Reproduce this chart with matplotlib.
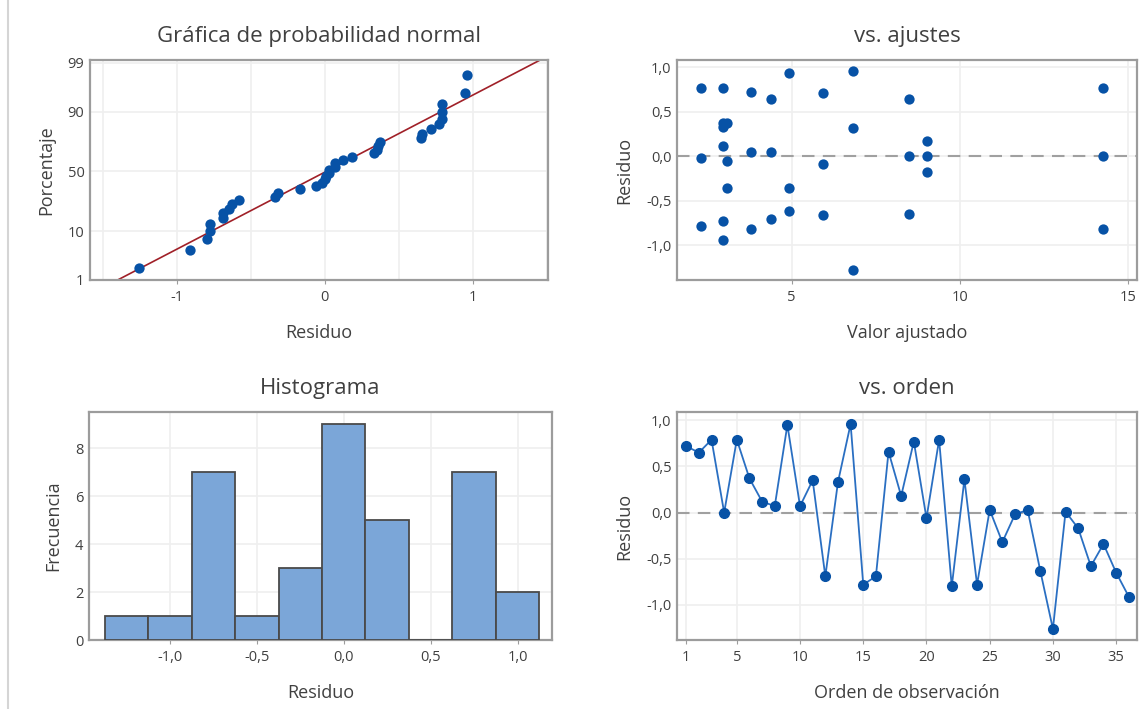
from statistics import NormalDist

import matplotlib
matplotlib.use('Agg')
import matplotlib.pyplot as plt
import numpy as np
from matplotlib.ticker import FuncFormatter

# residuals in observation order (1..36)
residuo = [0.72, 0.65, 0.79, 0.00, 0.79, 0.37, 0.12, 0.07, 0.95, 0.07,
           0.35, -0.69, 0.33, 0.96, -0.78, -0.69, 0.66, 0.18, 0.77, -0.06,
           0.79, -0.80, 0.36, -0.78, 0.03, -0.32, -0.02, 0.03, -0.63, -1.26,
           0.01, -0.17, -0.58, -0.34, -0.65, -0.91]

# fitted values vs residuals panel
ajustado = [2.30, 2.30, 2.30,
            2.95, 2.95, 2.95, 2.95, 2.95, 2.95,
            3.07, 3.07, 3.07,
            3.78, 3.78, 3.78,
            4.38, 4.38, 4.38,
            4.91, 4.91, 4.91,
            5.94, 5.94, 5.94,
            6.83, 6.83, 6.83,
            8.47, 8.47, 8.47,
            9.01, 9.01, 9.01,
            14.24, 14.24, 14.24]
residuo_ajuste = [0.77, -0.02, -0.78,
                  0.77, 0.37, 0.33, 0.11, -0.73, -0.94,
                  0.37, -0.05, -0.36,
                  0.72, 0.05, -0.82,
                  0.64, 0.05, -0.70,
                  0.93, -0.36, -0.62,
                  0.71, -0.09, -0.66,
                  0.96, 0.32, -1.28,
                  0.64, 0.00, -0.65,
                  0.17, 0.00, -0.18,
                  0.77, 0.00, -0.82]

# histogram bin edges
bordes = [-1.375, -1.125, -0.875, -0.625, -0.375, -0.125, 0.125, 0.375, 0.625, 0.875, 1.125]
pct_ticks = [1, 10, 50, 90, 99]

W, H = 1146, 709
AZUL = '#0752A6'
AZUL_LINEA = '#2A6FC2'
GRID = '#EFEFEF'
SPINE = '#9C9C9C'
TXT = '#404040'

plt.rcParams['font.family'] = ['Open Sans', 'DejaVu Sans']
plt.rcParams['axes.unicode_minus'] = False


def rect(x0, y0, x1, y1):
    return [x0 / W, 1 - y1 / H, (x1 - x0) / W, (y1 - y0) / H]


def coma(v, pos):
    return f'{v:.1f}'.replace('.', ',')


def estilo(ax, title, xlabel, ylabel):
    for s in ax.spines.values():
        s.set_color(SPINE)
        s.set_linewidth(1.6)
    ax.grid(True, color=GRID, linewidth=1.2)
    ax.set_axisbelow(True)
    ax.tick_params(axis='x', length=3, color=SPINE, labelsize=10.5, labelcolor=TXT, pad=4)
    ax.tick_params(axis='y', length=0, labelsize=10.5, labelcolor=TXT, pad=4)
    ax.set_title(title, fontsize=16, color=TXT, pad=13)
    ax.set_xlabel(xlabel, fontsize=13, color=TXT, labelpad=14)
    ax.set_ylabel(ylabel, fontsize=13, color=TXT, labelpad=9)


fig = plt.figure(figsize=(W / 100, H / 100), dpi=100)
fig.add_artist(plt.Line2D([8 / W, 8 / W], [0, 1], color='#D5D5D5', linewidth=1.5))

# normal probability plot
ax1 = fig.add_axes(rect(90, 60, 548, 280))
nd = NormalDist()
r = np.sort(residuo)
n = len(r)
z = np.array([nd.inv_cdf((i + 1 - 0.3) / (n + 0.4)) for i in range(n)])
mu, sd = np.mean(r), np.std(r, ddof=1)
zl = np.array([-2.4, 2.45])
ax1.plot(mu + sd * zl, zl, color='#A02028', linewidth=1.2, zorder=2)
ax1.scatter(r, z, s=55, color=AZUL, zorder=3, linewidths=0)
ax1.set_xlim(-1.59, 1.51)
ax1.set_ylim(-2.33, 2.39)
ax1.set_yticks([nd.inv_cdf(p / 100) for p in pct_ticks])
ax1.set_yticklabels([str(p) for p in pct_ticks])
ax1.set_xticks([-1, 0, 1])
ax1.set_xticks([-1.5, -0.5, 0.5, 1.5], minor=True)
ax1.tick_params(which='minor', length=0)
ax1.grid(True, which='minor', axis='x', color=GRID, linewidth=1.2)
estilo(ax1, 'Gráfica de probabilidad normal', 'Residuo', 'Porcentaje')

# residuals vs fitted
ax2 = fig.add_axes(rect(677, 60, 1137, 280))
ax2.axhline(0, color='#A0A0A0', linewidth=1.5, linestyle=(0, (6, 4)), zorder=2)
ax2.scatter(ajustado, residuo_ajuste, s=55, color=AZUL, zorder=3, linewidths=0)
ax2.set_xlim(1.59, 15.26)
ax2.set_ylim(-1.39, 1.08)
ax2.set_xticks([5, 10, 15])
ax2.set_yticks([-1.0, -0.5, 0.0, 0.5, 1.0])
ax2.yaxis.set_major_formatter(FuncFormatter(coma))
estilo(ax2, 'vs. ajustes', 'Valor ajustado', 'Residuo')

# histogram
ax3 = fig.add_axes(rect(89, 412, 552, 640))
ax3.hist(residuo, bins=bordes, color='#7BA6D8', edgecolor='#4A4A4A', linewidth=1.3, zorder=3)
ax3.set_xlim(-1.465, 1.198)
ax3.set_ylim(0, 9.5)
ax3.set_xticks([-1.0, -0.5, 0.0, 0.5, 1.0])
ax3.set_yticks([0, 2, 4, 6, 8])
ax3.xaxis.set_major_formatter(FuncFormatter(coma))
estilo(ax3, 'Histograma', 'Residuo', 'Frecuencia')

# residuals vs order
ax4 = fig.add_axes(rect(677, 412, 1137, 640))
orden = np.arange(1, len(residuo) + 1)
ax4.axhline(0, color='#A0A0A0', linewidth=1.5, linestyle=(0, (6, 4)), zorder=2)
ax4.plot(orden, residuo, color=AZUL_LINEA, linewidth=1.3, marker='o', markersize=7,
         markerfacecolor=AZUL, markeredgecolor=AZUL, zorder=3)
ax4.set_xlim(0.27, 36.65)
ax4.set_ylim(-1.38, 1.09)
ax4.set_xticks([1, 5, 10, 15, 20, 25, 30, 35])
ax4.set_yticks([-1.0, -0.5, 0.0, 0.5, 1.0])
ax4.yaxis.set_major_formatter(FuncFormatter(coma))
estilo(ax4, 'vs. orden', 'Orden de observación', 'Residuo')

fig.savefig('out.png', dpi=100, facecolor='white')
